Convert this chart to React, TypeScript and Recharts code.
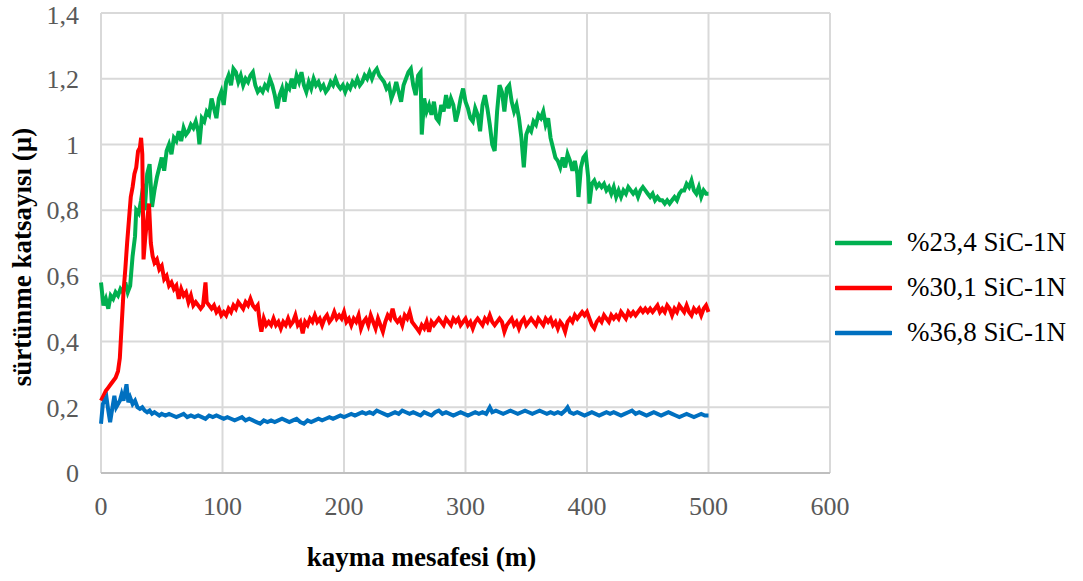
import { CartesianGrid, Label, Line, LineChart, XAxis, YAxis } from "recharts";

type Pt = [number, number];

// %23,4 SiC-1N
const green: Pt[] = [
  [0, 0.58], [2, 0.51], [4, 0.53], [6, 0.5], [8, 0.54], [10, 0.53], [12, 0.55], [14, 0.54], [16, 0.56], [18, 0.55],
  [20, 0.58], [22, 0.55], [24, 0.57], [26, 0.66], [28, 0.72], [29, 0.8], [31, 0.79], [33, 0.83], [35, 0.88], [36, 0.8],
  [38, 0.91], [40, 0.94], [42, 0.81], [44, 0.86], [46, 0.9], [48, 0.93], [50, 0.96], [52, 0.92], [54, 0.98], [56, 1.0],
  [58, 0.97], [60, 1.02], [62, 1.01], [64, 1.04], [66, 1.01], [68, 1.05], [70, 1.03], [72, 1.04], [74, 1.06], [76, 1.05],
  [78, 1.07], [80, 1.04], [81, 1.0], [83, 1.08], [85, 1.07], [87, 1.1], [89, 1.09], [91, 1.14], [93, 1.11], [95, 1.08],
  [97, 1.14], [99, 1.16], [101, 1.12], [103, 1.19], [105, 1.21], [107, 1.18], [109, 1.23], [111, 1.22], [113, 1.19], [115, 1.21],
  [117, 1.18], [119, 1.2], [121, 1.19], [123, 1.21], [125, 1.22], [127, 1.18], [129, 1.16], [131, 1.17], [133, 1.16], [135, 1.18],
  [137, 1.17], [139, 1.2], [141, 1.18], [143, 1.15], [145, 1.11], [147, 1.15], [149, 1.17], [151, 1.13], [153, 1.18], [155, 1.17],
  [157, 1.2], [159, 1.17], [161, 1.21], [163, 1.19], [165, 1.22], [167, 1.18], [169, 1.16], [171, 1.19], [173, 1.17], [175, 1.2],
  [177, 1.18], [179, 1.19], [181, 1.17], [183, 1.18], [185, 1.16], [187, 1.17], [189, 1.19], [191, 1.18], [193, 1.2], [195, 1.18],
  [197, 1.17], [199, 1.18], [201, 1.16], [203, 1.18], [205, 1.17], [207, 1.19], [209, 1.18], [211, 1.2], [213, 1.18], [215, 1.19],
  [217, 1.21], [219, 1.2], [221, 1.22], [223, 1.2], [225, 1.22], [227, 1.23], [229, 1.21], [231, 1.2], [233, 1.19], [235, 1.17],
  [237, 1.18], [239, 1.14], [241, 1.16], [243, 1.19], [245, 1.16], [247, 1.13], [249, 1.18], [251, 1.2], [253, 1.22], [255, 1.23],
  [257, 1.18], [259, 1.15], [261, 1.21], [263, 1.22], [264, 1.03], [266, 1.14], [268, 1.1], [270, 1.12], [272, 1.09], [274, 1.13],
  [276, 1.08], [278, 1.07], [280, 1.12], [282, 1.1], [284, 1.15], [286, 1.11], [288, 1.14], [290, 1.12], [292, 1.07], [294, 1.1],
  [296, 1.14], [298, 1.17], [300, 1.13], [302, 1.11], [304, 1.08], [306, 1.07], [308, 1.11], [310, 1.09], [312, 1.04], [314, 1.12],
  [316, 1.15], [318, 1.11], [320, 1.06], [322, 1.0], [324, 0.98], [326, 1.1], [328, 1.18], [330, 1.16], [332, 1.1], [334, 1.17],
  [336, 1.18], [338, 1.13], [340, 1.1], [342, 1.12], [344, 1.08], [346, 1.02], [348, 0.93], [350, 1.03], [352, 1.05], [354, 1.04],
  [356, 1.07], [358, 1.06], [360, 1.09], [362, 1.08], [364, 1.1], [366, 1.06], [368, 1.08], [370, 1.02], [372, 0.99], [374, 0.96],
  [376, 0.95], [378, 0.93], [380, 0.96], [382, 0.93], [384, 0.97], [386, 0.95], [388, 0.92], [390, 0.95], [392, 0.91], [393, 0.84],
  [395, 0.93], [397, 0.96], [399, 0.97], [401, 0.9], [402, 0.82], [404, 0.88], [406, 0.89], [408, 0.87], [410, 0.88], [412, 0.87],
  [414, 0.88], [416, 0.86], [418, 0.87], [420, 0.85], [422, 0.87], [424, 0.84], [426, 0.86], [428, 0.84], [430, 0.86], [432, 0.85],
  [434, 0.87], [436, 0.86], [438, 0.85], [440, 0.86], [442, 0.84], [444, 0.86], [446, 0.87], [448, 0.86], [450, 0.85], [452, 0.84],
  [454, 0.85], [456, 0.83], [458, 0.84], [460, 0.83], [462, 0.83], [464, 0.82], [466, 0.83], [468, 0.82], [470, 0.83], [472, 0.84],
  [474, 0.83], [476, 0.85], [478, 0.86], [480, 0.86], [482, 0.88], [484, 0.87], [486, 0.89], [488, 0.86], [490, 0.85], [492, 0.87],
  [494, 0.84], [496, 0.86], [498, 0.85], [500, 0.85],
];

// %30,1 SiC-1N
const red: Pt[] = [
  [0, 0.22], [2, 0.235], [4, 0.25], [6, 0.26], [8, 0.27], [10, 0.28], [12, 0.29], [14, 0.31], [15.5, 0.35], [17, 0.45],
  [18.5, 0.55], [20, 0.62], [21.5, 0.7], [23, 0.77], [24.5, 0.84], [26, 0.87], [27.5, 0.91], [29, 0.93], [30.5, 0.98], [32, 0.99],
  [33, 1.02], [34, 0.97], [35, 0.65], [36.5, 0.72], [38, 0.77], [39.5, 0.82], [41, 0.7], [42.5, 0.66], [44, 0.64], [46, 0.65],
  [48, 0.62], [50, 0.63], [52, 0.59], [54, 0.6], [56, 0.57], [58, 0.58], [60, 0.56], [62, 0.57], [64, 0.53], [66, 0.56],
  [68, 0.54], [70, 0.55], [72, 0.52], [74, 0.54], [76, 0.51], [78, 0.52], [80, 0.51], [82, 0.5], [84, 0.51], [86, 0.58],
  [87, 0.52], [89, 0.51], [91, 0.5], [93, 0.51], [95, 0.49], [97, 0.5], [99, 0.48], [101, 0.49], [103, 0.48], [105, 0.5],
  [107, 0.49], [109, 0.51], [111, 0.5], [113, 0.52], [115, 0.51], [117, 0.5], [119, 0.52], [121, 0.51], [123, 0.53], [125, 0.51],
  [127, 0.5], [129, 0.51], [131, 0.45], [132, 0.43], [134, 0.47], [136, 0.45], [138, 0.46], [140, 0.45], [142, 0.47], [144, 0.45],
  [146, 0.46], [148, 0.44], [150, 0.46], [152, 0.45], [154, 0.47], [156, 0.45], [158, 0.46], [160, 0.48], [162, 0.45], [164, 0.46],
  [166, 0.425], [168, 0.46], [170, 0.45], [172, 0.47], [174, 0.46], [176, 0.48], [178, 0.46], [180, 0.47], [182, 0.45], [184, 0.47],
  [186, 0.48], [188, 0.46], [190, 0.47], [192, 0.49], [194, 0.47], [196, 0.48], [198, 0.47], [200, 0.49], [202, 0.46], [204, 0.47],
  [206, 0.45], [208, 0.47], [210, 0.46], [212, 0.48], [214, 0.44], [216, 0.46], [218, 0.47], [220, 0.45], [222, 0.48], [224, 0.46],
  [226, 0.44], [228, 0.47], [230, 0.45], [232, 0.43], [234, 0.46], [236, 0.48], [238, 0.47], [240, 0.5], [242, 0.47], [244, 0.46],
  [246, 0.47], [248, 0.45], [250, 0.48], [252, 0.47], [254, 0.49], [256, 0.46], [258, 0.45], [260, 0.44], [262, 0.43], [264, 0.45],
  [266, 0.44], [268, 0.46], [270, 0.43], [272, 0.46], [274, 0.45], [276, 0.46], [278, 0.47], [280, 0.46], [282, 0.45], [284, 0.47],
  [286, 0.46], [288, 0.45], [290, 0.47], [292, 0.46], [294, 0.47], [296, 0.45], [298, 0.46], [300, 0.47], [302, 0.45], [304, 0.46],
  [306, 0.44], [308, 0.46], [310, 0.47], [312, 0.46], [314, 0.45], [316, 0.47], [318, 0.46], [320, 0.48], [322, 0.46], [324, 0.45],
  [326, 0.46], [328, 0.47], [330, 0.46], [332, 0.43], [334, 0.45], [336, 0.46], [338, 0.47], [340, 0.45], [342, 0.46], [344, 0.44],
  [346, 0.46], [348, 0.47], [350, 0.45], [352, 0.46], [354, 0.47], [356, 0.46], [358, 0.45], [360, 0.47], [362, 0.46], [364, 0.45],
  [366, 0.47], [368, 0.46], [370, 0.47], [372, 0.45], [374, 0.46], [376, 0.44], [378, 0.46], [380, 0.45], [382, 0.43], [384, 0.46],
  [386, 0.47], [388, 0.46], [390, 0.48], [392, 0.47], [394, 0.48], [396, 0.49], [398, 0.48], [400, 0.49], [402, 0.47], [404, 0.45],
  [406, 0.44], [408, 0.46], [410, 0.47], [412, 0.46], [414, 0.48], [416, 0.47], [418, 0.46], [420, 0.48], [422, 0.47], [424, 0.48],
  [426, 0.47], [428, 0.49], [430, 0.48], [432, 0.47], [434, 0.49], [436, 0.48], [438, 0.49], [440, 0.48], [442, 0.49], [444, 0.5],
  [446, 0.49], [448, 0.5], [450, 0.49], [452, 0.5], [454, 0.49], [456, 0.5], [458, 0.51], [460, 0.49], [462, 0.5], [464, 0.49],
  [466, 0.51], [468, 0.5], [470, 0.48], [472, 0.5], [474, 0.49], [476, 0.51], [478, 0.5], [480, 0.49], [482, 0.51], [484, 0.49],
  [486, 0.48], [488, 0.5], [490, 0.49], [492, 0.5], [494, 0.48], [496, 0.5], [498, 0.51], [500, 0.49],
];

// %36,8 SiC-1N
const blue: Pt[] = [
  [0, 0.15], [1.5, 0.21], [3, 0.22], [4.5, 0.23], [6, 0.19], [7.5, 0.155], [9, 0.19], [11, 0.235], [12.5, 0.2], [14, 0.21],
  [15.5, 0.22], [17, 0.24], [18.5, 0.22], [20, 0.25], [21, 0.27], [22.5, 0.215], [24, 0.23], [26, 0.21], [28, 0.22], [30, 0.2],
  [32, 0.195], [34, 0.2], [36, 0.19], [38, 0.185], [40, 0.19], [42, 0.18], [44, 0.185], [46, 0.18], [48, 0.175], [50, 0.18],
  [53, 0.175], [56, 0.18], [59, 0.175], [62, 0.17], [65, 0.175], [68, 0.18], [71, 0.17], [74, 0.175], [77, 0.17], [80, 0.175],
  [83, 0.17], [86, 0.165], [89, 0.175], [92, 0.17], [95, 0.175], [98, 0.17], [101, 0.165], [104, 0.17], [107, 0.165], [110, 0.16],
  [113, 0.165], [116, 0.17], [119, 0.16], [122, 0.165], [125, 0.16], [128, 0.155], [131, 0.15], [134, 0.16], [137, 0.155], [140, 0.16],
  [143, 0.155], [146, 0.16], [149, 0.165], [152, 0.16], [155, 0.155], [158, 0.16], [161, 0.165], [164, 0.155], [167, 0.15], [170, 0.16],
  [173, 0.155], [176, 0.16], [179, 0.165], [182, 0.16], [185, 0.165], [188, 0.17], [191, 0.165], [194, 0.17], [197, 0.175], [200, 0.17],
  [203, 0.175], [206, 0.18], [209, 0.175], [212, 0.18], [215, 0.185], [218, 0.18], [221, 0.185], [224, 0.18], [227, 0.19], [230, 0.185],
  [233, 0.18], [236, 0.175], [239, 0.18], [242, 0.185], [245, 0.18], [248, 0.19], [251, 0.185], [254, 0.18], [257, 0.185], [260, 0.18],
  [263, 0.175], [266, 0.185], [269, 0.18], [272, 0.175], [275, 0.185], [278, 0.19], [281, 0.18], [284, 0.185], [287, 0.18], [290, 0.175],
  [293, 0.18], [296, 0.185], [299, 0.18], [302, 0.175], [305, 0.18], [308, 0.185], [311, 0.18], [314, 0.185], [317, 0.18], [320, 0.2],
  [322, 0.185], [325, 0.19], [328, 0.185], [331, 0.18], [334, 0.185], [337, 0.19], [340, 0.185], [343, 0.18], [346, 0.185], [349, 0.19],
  [352, 0.185], [355, 0.18], [358, 0.185], [361, 0.19], [364, 0.185], [367, 0.18], [370, 0.185], [373, 0.18], [376, 0.185], [379, 0.18],
  [382, 0.19], [384, 0.2], [386, 0.185], [389, 0.18], [392, 0.185], [395, 0.18], [398, 0.175], [401, 0.18], [404, 0.185], [407, 0.18],
  [410, 0.175], [413, 0.18], [416, 0.185], [419, 0.18], [422, 0.185], [425, 0.18], [428, 0.175], [431, 0.18], [434, 0.185], [437, 0.19],
  [440, 0.18], [443, 0.185], [446, 0.18], [449, 0.175], [452, 0.18], [455, 0.185], [458, 0.18], [461, 0.175], [464, 0.18], [467, 0.185],
  [470, 0.18], [473, 0.175], [476, 0.17], [479, 0.175], [482, 0.18], [485, 0.175], [488, 0.17], [491, 0.175], [494, 0.18], [497, 0.175],
  [500, 0.175],
];

const xTicks = [0, 100, 200, 300, 400, 500, 600];
const yTicks = [0, 0.2, 0.4, 0.6, 0.8, 1, 1.2, 1.4];

const series = [
  { name: "%23,4 SiC-1N", color: "#00B050", points: green },
  { name: "%30,1 SiC-1N", color: "#FF0000", points: red },
  { name: "%36,8 SiC-1N", color: "#0070C0", points: blue },
];

const FONT = "'Liberation Serif', 'Times New Roman', serif";
const toRows = (pts: Pt[]) => pts.map(([x, y]) => ({ x, y }));
const comma = (v: number) => String(v).replace(".", ",");

function XTitle(props: any) {
  const { viewBox } = props;
  return (
    <text
      x={viewBox.x + viewBox.width / 2 - 44}
      y={566}
      textAnchor="middle"
      fontFamily={FONT}
      fontWeight="bold"
      fontSize={27}
      fill="#000"
    >
      kayma mesafesi (m)
    </text>
  );
}

function YTitle() {
  return (
    <text
      transform="translate(31, 257) rotate(-90)"
      textAnchor="middle"
      fontFamily={FONT}
      fontWeight="bold"
      fontSize={27}
      fill="#000"
    >
      sürtünme katsayısı (µ)
    </text>
  );
}

export default function App() {
  return (
    <div style={{ position: "absolute", left: 0, top: 0, width: 1083, height: 581, background: "#fff" }}>
      <LineChart width={1083} height={581} margin={{ top: 13, right: 253, bottom: 0, left: 0 }}>
        <CartesianGrid stroke="#d9d9d9" strokeWidth={2} />
        <XAxis
          type="number"
          dataKey="x"
          domain={[0, 600]}
          ticks={xTicks}
          height={108}
          tickLine={false}
          tickSize={0}
          tickMargin={24}
          axisLine={{ stroke: "#bfbfbf", strokeWidth: 2 }}
          tick={{ fill: "#595959", fontSize: 26, fontFamily: FONT }}
        >
          <Label content={XTitle} />
        </XAxis>
        <YAxis
          type="number"
          dataKey="y"
          domain={[0, 1.4]}
          ticks={yTicks}
          width={101}
          tickLine={false}
          tickSize={0}
          tickMargin={22}
          axisLine={false}
          tickFormatter={comma}
          tick={{ fill: "#595959", fontSize: 26, fontFamily: FONT }}
        >
          <Label content={YTitle} />
        </YAxis>
        {series.map((s) => (
          <Line
            key={s.name}
            data={toRows(s.points)}
            dataKey="y"
            name={s.name}
            type="linear"
            stroke={s.color}
            strokeWidth={4}
            dot={false}
            activeDot={false}
            isAnimationActive={false}
          />
        ))}
      </LineChart>
      <div style={{ position: "absolute", left: 835, top: 220, fontFamily: FONT, fontSize: 27, color: "#000" }}>
        {series.map((s) => (
          <div key={s.name} style={{ display: "flex", alignItems: "center", height: 45 }}>
            <svg width={57} height={10} style={{ display: "block" }}>
              <line x1={1} y1={5} x2={56} y2={5} stroke={s.color} strokeWidth={4.5} strokeLinecap="round" />
            </svg>
            <span style={{ marginLeft: 15, whiteSpace: "nowrap" }}>{s.name}</span>
          </div>
        ))}
      </div>
    </div>
  );
}
